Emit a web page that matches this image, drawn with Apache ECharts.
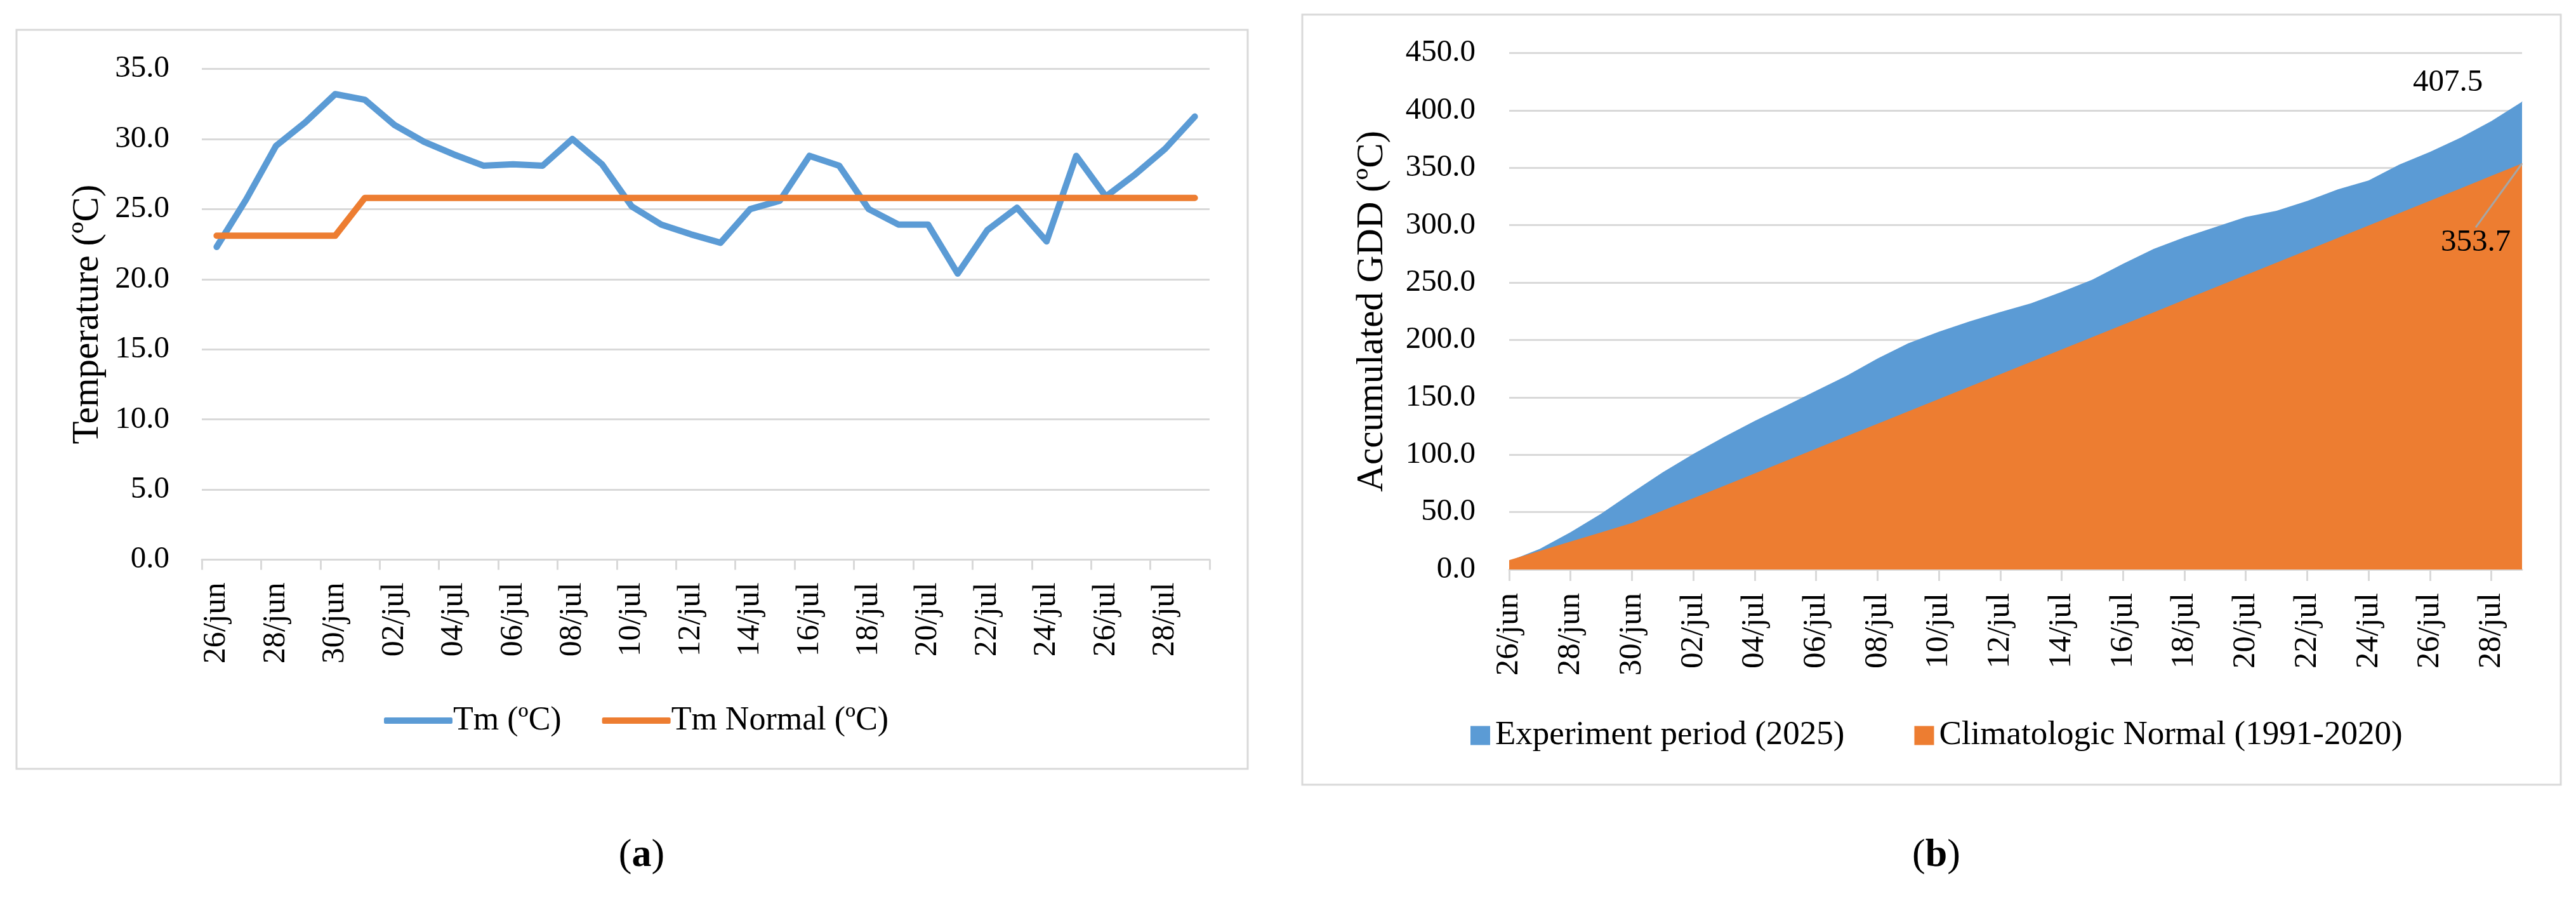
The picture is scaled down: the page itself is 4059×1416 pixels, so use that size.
<!DOCTYPE html>
<html>
<head>
<meta charset="utf-8">
<script src="https://cdn.jsdelivr.net/npm/echarts@6/dist/echarts.min.js"></script>
<style>
html, body { margin: 0; padding: 0; background: #fff; }
#chart { width: 4059px; height: 1416px; }
</style>
</head>
<body>
<div id="chart"></div>
<script>
// ---- data ----
const days = ['26/jun','27/jun','28/jun','29/jun','30/jun','01/jul','02/jul','03/jul','04/jul','05/jul',
  '06/jul','07/jul','08/jul','09/jul','10/jul','11/jul','12/jul','13/jul','14/jul','15/jul',
  '16/jul','17/jul','18/jul','19/jul','20/jul','21/jul','22/jul','23/jul','24/jul','25/jul',
  '26/jul','27/jul','28/jul','29/jul'];
const tm = [22.3, 25.7, 29.5, 31.2, 33.2, 32.8, 31.0, 29.8, 28.9, 28.1,
  28.2, 28.1, 30.0, 28.2, 25.2, 23.9, 23.2, 22.6, 25.0, 25.6,
  28.8, 28.1, 25.0, 23.9, 23.9, 20.4, 23.5, 25.1, 22.7, 28.8,
  25.9, 27.5, 29.3, 31.6];
const tmNormal = [23.1, 23.1, 23.1, 23.1, 23.1, 25.8, 25.8, 25.8, 25.8, 25.8,
  25.8, 25.8, 25.8, 25.8, 25.8, 25.8, 25.8, 25.8, 25.8, 25.8,
  25.8, 25.8, 25.8, 25.8, 25.8, 25.8, 25.8, 25.8, 25.8, 25.8,
  25.8, 25.8, 25.8, 25.8];
const gddExperiment = [7.3, 18.0, 32.5, 48.7, 66.9, 84.7, 100.7, 115.5, 129.4, 142.5,
  155.7, 168.8, 183.8, 197.0, 207.2, 216.1, 224.3, 231.9, 241.9, 252.5,
  266.3, 279.4, 289.4, 298.3, 307.2, 312.6, 321.1, 331.2, 338.9, 352.8,
  363.8, 376.3, 390.7, 407.5];
const gddNormal = [8.1, 16.2, 24.3, 32.4, 40.5, 51.3, 62.1, 72.9, 83.7, 94.5,
  105.3, 116.1, 126.9, 137.7, 148.5, 159.3, 170.1, 180.9, 191.7, 202.5,
  213.3, 224.1, 234.9, 245.7, 256.5, 267.3, 278.1, 288.9, 299.7, 310.5,
  321.3, 332.1, 342.9, 353.7];
const tempTicks = { min: 0, max: 35, interval: 5 };
const gddTicks = { min: 0, max: 450, interval: 50 };

// ---- styles ----
const FONT = 'Liberation Serif';
const BLUE = '#5B9BD5';
const ORANGE = '#ED7D31';
const GRIDC = '#D9D9D9';
const TXT = '#000000';

function lastLabelData(arr, extra) {
  return arr.map((v, i) => i === arr.length - 1
    ? Object.assign({ value: v, symbol: 'circle', symbolSize: 1 }, extra)
    : v);
}

const chart = echarts.init(document.getElementById('chart'));
const option = {
  backgroundColor: '#ffffff',
  animation: false,
  textStyle: { fontFamily: FONT, color: TXT },
  title: [
    { text: '({b|a})', left: 1006, top: 1312, textAlign: 'center',
      textStyle: { fontFamily: FONT, fontSize: 62, fontWeight: 'normal', color: TXT,
        rich: { b: { fontFamily: FONT, fontSize: 62, fontWeight: 'bold', color: TXT } } } },
    { text: '({b|b})', left: 3046, top: 1312, textAlign: 'center',
      textStyle: { fontFamily: FONT, fontSize: 62, fontWeight: 'normal', color: TXT,
        rich: { b: { fontFamily: FONT, fontSize: 62, fontWeight: 'bold', color: TXT } } } }
  ],
  graphic: [
    { type: 'rect', shape: { x: 26, y: 47, width: 1940, height: 1164 },
      style: { fill: 'none', stroke: GRIDC, lineWidth: 3 }, silent: true },
    { type: 'rect', shape: { x: 2052, y: 23, width: 1983, height: 1213 },
      style: { fill: 'none', stroke: GRIDC, lineWidth: 3 }, silent: true }
  ],
  legend: [
    { data: ['Tm (ºC)', 'Tm Normal (ºC)'], left: 600, top: 1104, orient: 'horizontal',
      icon: 'roundRect', itemWidth: 108, itemHeight: 10, itemGap: 64,
      textStyle: { fontFamily: FONT, fontSize: 52, color: TXT, padding: [0, 0, 0, -4] } },
    { data: ['Experiment period (2025)', 'Climatologic Normal (1991-2020)'], left: 2312, top: 1127,
      icon: 'rect', itemWidth: 31, itemHeight: 30, itemGap: 110,
      textStyle: { fontFamily: FONT, fontSize: 53, color: TXT, padding: [0, 0, 0, 3] } }
  ],
  grid: [
    { left: 318, top: 108.5, width: 1588, height: 773, containLabel: false },
    { left: 2378, top: 83.5, width: 1596, height: 813.5, containLabel: false }
  ],
  xAxis: [
    { type: 'category', gridIndex: 0, data: days, boundaryGap: true,
      axisLine: { lineStyle: { color: GRIDC, width: 3 } },
      axisTick: { show: true, interval: 1, length: 16, lineStyle: { color: GRIDC, width: 3 } },
      axisLabel: { interval: 1, rotate: 90, margin: 36, fontFamily: FONT, fontSize: 50, color: TXT } },
    { type: 'category', gridIndex: 1, data: days, boundaryGap: false,
      axisLine: { lineStyle: { color: GRIDC, width: 3 } },
      axisTick: { show: true, interval: 1, length: 18, lineStyle: { color: GRIDC, width: 3 } },
      axisLabel: { interval: 1, rotate: 90, margin: 37, fontFamily: FONT, fontSize: 51, color: TXT } }
  ],
  yAxis: [
    { type: 'value', gridIndex: 0, min: tempTicks.min, max: tempTicks.max, interval: tempTicks.interval,
      name: 'Temperature (ºC)', nameLocation: 'middle', nameGap: 150,
      nameTextStyle: { fontFamily: FONT, fontSize: 59, color: TXT },
      axisLine: { show: false }, axisTick: { show: false },
      splitLine: { lineStyle: { color: GRIDC, width: 3 } },
      axisLabel: { margin: 51, fontFamily: FONT, fontSize: 49, color: TXT,
        formatter: v => v.toFixed(1) } },
    { type: 'value', gridIndex: 1, min: gddTicks.min, max: gddTicks.max, interval: gddTicks.interval,
      name: 'Accumulated GDD (ºC)', nameLocation: 'middle', nameGap: 186,
      nameTextStyle: { fontFamily: FONT, fontSize: 59, color: TXT },
      axisLine: { show: false }, axisTick: { show: false },
      splitLine: { lineStyle: { color: GRIDC, width: 3 } },
      axisLabel: { margin: 53, fontFamily: FONT, fontSize: 49, color: TXT,
        formatter: v => v.toFixed(1) } }
  ],
  series: [
    { name: 'Tm (ºC)', type: 'line', xAxisIndex: 0, yAxisIndex: 0, data: tm,
      showSymbol: false, symbol: 'none', color: BLUE,
      lineStyle: { color: BLUE, width: 10, cap: 'round', join: 'round' } },
    { name: 'Tm Normal (ºC)', type: 'line', xAxisIndex: 0, yAxisIndex: 0, data: tmNormal,
      showSymbol: false, symbol: 'none', color: ORANGE,
      lineStyle: { color: ORANGE, width: 10, cap: 'round', join: 'round' } },
    { name: 'Experiment period (2025)', type: 'line', xAxisIndex: 1, yAxisIndex: 1,
      data: lastLabelData(gddExperiment, {
        label: { show: true, position: 'top', offset: [-117, 0], fontFamily: FONT, fontSize: 49, color: TXT,
          formatter: p => p.value.toFixed(1) } }),
      symbol: 'none', showSymbol: true, showAllSymbol: true, color: BLUE, clip: false,
      lineStyle: { width: 0 }, areaStyle: { color: BLUE, opacity: 1 } },
    { name: 'Climatologic Normal (1991-2020)', type: 'line', xAxisIndex: 1, yAxisIndex: 1,
      data: lastLabelData(gddNormal, {
        label: { show: true, position: 'bottom', fontFamily: FONT, fontSize: 49, color: TXT,
          formatter: p => p.value.toFixed(1) },
        labelLine: { show: true, lineStyle: { color: '#A6A6A6', width: 3 } } }),
      labelLayout: (params) => params.dataIndex === gddNormal.length - 1 ? { dx: -73, dy: 95 } : {},
      labelLine: { show: true, lineStyle: { color: '#A6A6A6', width: 3 } },
      symbol: 'none', showSymbol: true, showAllSymbol: true, color: ORANGE, clip: false,
      lineStyle: { width: 0 }, areaStyle: { color: ORANGE, opacity: 1 } }
  ]
};
chart.setOption(option);
</script>
</body>
</html>
